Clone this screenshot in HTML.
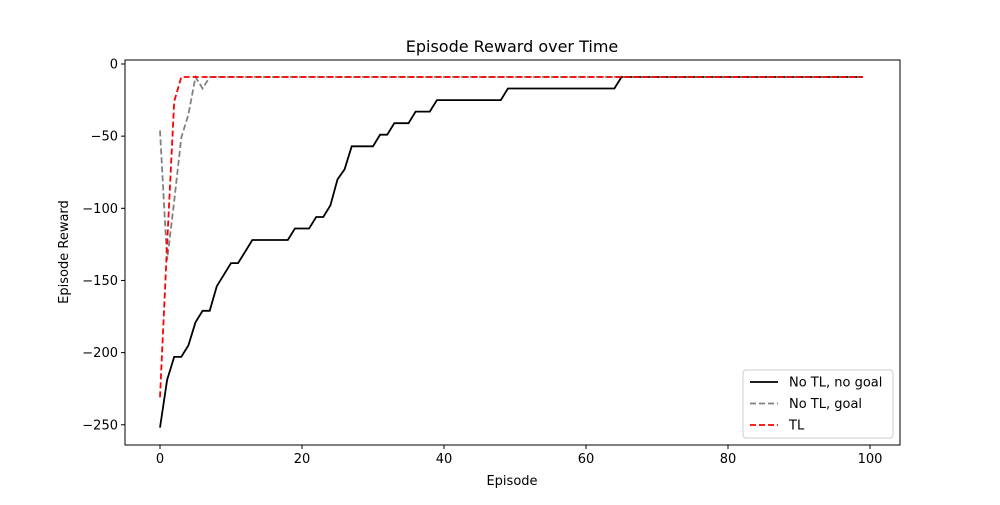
<!DOCTYPE html>
<html><head><meta charset="utf-8"><style>
body{margin:0;background:#fff;font-family:"Liberation Sans","DejaVu Sans",sans-serif}
svg text{font-family:"DejaVu Sans","Liberation Sans",sans-serif;font-size:13px;fill:#000}
</style></head><body>
<svg id="c" width="1000" height="500"></svg>
<script>
const episodes=[...Array(100).keys()];
const blackVals=[-252,-219,-203,-203,-195,-179,-171,-171,-154,-146,-138,-138,-130,-122,-122,-122,-122,-122,-122,-114,-114,-114,-106,-106,-98,-80,-73,-57,-57,-57,-57,-49,-49,-41,-41,-41,-33,-33,-33,-25,-25,-25,-25,-25,-25,-25,-25,-25,-25,-17,-17,-17,-17,-17,-17,-17,-17,-17,-17,-17,-17,-17,-17,-17,-17].concat(Array(35).fill(-9));
const grayVals=[-46,-136,-95,-51,-35,-9,-17].concat(Array(93).fill(-9));
const redVals=[-231,-125,-26].concat(Array(97).fill(-9));
const xTicks=[0,20,40,60,80,100];
const yTicks=[0,-50,-100,-150,-200,-250];
const seriesNames=["No TL, no goal","No TL, goal","TL"];
const NS="http://www.w3.org/2000/svg";
const svg=document.getElementById('c');
const L=125,R=900,T=60,B=445;
const X=v=>160+(v)*7.1;
const Y=v=>64-v*1.443;
function mk(t,a,p){const e=document.createElementNS(NS,t);for(const k in a)e.setAttribute(k,a[k]);(p||svg).appendChild(e);return e;}
let t=mk('text',{x:512,y:52,'text-anchor':'middle',style:'font-size:16px'});t.textContent="Episode Reward over Time";

const cl=mk('clipPath',{id:'cp'});mk('rect',{x:L,y:T,width:R-L,height:B-T},cl);
function line(vals,color,dash,name){
 const d=vals.map((v,i)=>(i?'L':'M')+X(episodes[i]).toFixed(1)+','+Y(v).toFixed(1)).join('');
 const p=mk('path',{d:d,fill:'none',stroke:color,'stroke-width':'1.8','stroke-dasharray':dash,'clip-path':'url(#cp)'});
 
 
}
line(blackVals,'#000','none','series-no-tl-no-goal');
line(grayVals,'#808080','6 3','series-no-tl-goal');
line(redVals,'#f00','6 3','series-tl');
const fr=mk('rect',{x:L,y:T,width:R-L,height:B-T,fill:'none',stroke:'#000','stroke-width':'1'});

xTicks.forEach(v=>{mk('line',{x1:X(v),x2:X(v),y1:B,y2:B+4,stroke:'#000'});
 const e=mk('text',{x:X(v),y:B+18,'text-anchor':'middle'});e.textContent=v;
 });
yTicks.forEach(v=>{mk('line',{x1:L-4,x2:L,y1:Y(v),y2:Y(v),stroke:'#000'});
 const e=mk('text',{x:L-7,y:Y(v)+4.5,'text-anchor':'end'});e.textContent=v===0?'0':'\u2212'+(-v);
 });
t=mk('text',{x:512,y:485,'text-anchor':'middle'});t.textContent="Episode";

t=mk('text',{x:68,y:252,'text-anchor':'middle',transform:'rotate(-90 68 252)'});t.textContent="Episode Reward";

const lg=mk('g',{});
mk('rect',{x:743,y:370,width:150,height:68,rx:3,fill:'#fff',stroke:'#ccc'},lg);
const cols=['#000','#808080','#f00'],dashes=['none','6 3','6 3'];
seriesNames.forEach((n,i)=>{const y=382+i*21.5;
 mk('line',{x1:750,x2:778,y1:y,y2:y,stroke:cols[i],'stroke-width':'1.8','stroke-dasharray':dashes[i]},lg);
 const e=mk('text',{x:789,y:y+4.5},lg);e.textContent=n;
 });
</script>
</body></html>
